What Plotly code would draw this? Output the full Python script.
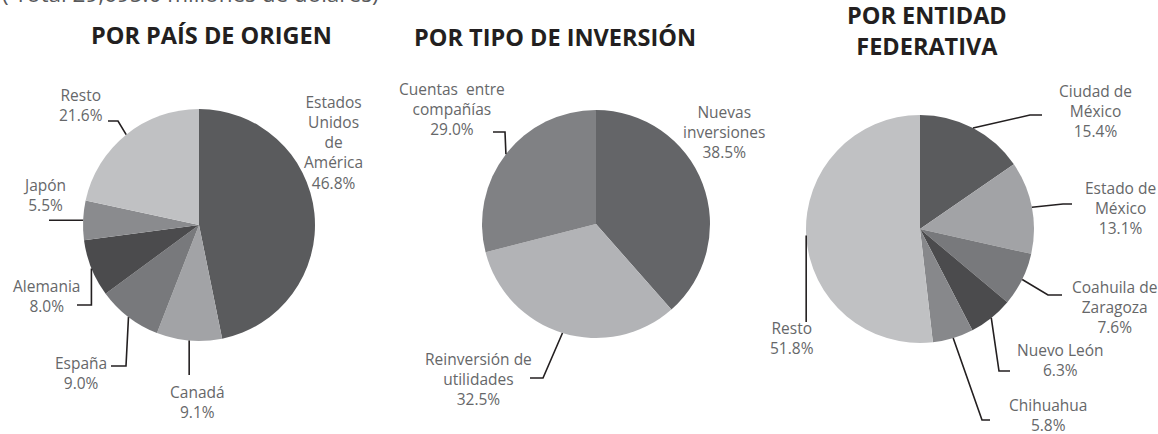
import math
import plotly.graph_objects as go

W, H = 1158, 434

# ---------------- data ----------------
origen_labels = ["Estados<br>Unidos<br>de<br>América", "Canadá", "España", "Alemania", "Japón", "Resto"]
origen_values = [46.8, 9.1, 9.0, 8.0, 5.5, 21.6]
origen_colors = ["#5a5b5d", "#a2a3a6", "#78797c", "#4b4b4d", "#8a8b8e", "#c0c1c3"]

tipo_labels = ["Nuevas<br>inversiones", "Reinversión de<br>utilidades", "Cuentas  entre<br>compañías"]
tipo_values = [38.5, 32.5, 29.0]
tipo_colors = ["#646568", "#b2b3b6", "#808184"]

entidad_labels = ["Ciudad de<br>México", "Estado de<br>México", "Coahuila de<br>Zaragoza",
                  "Nuevo León", "Chihuahua", "Resto"]
entidad_values = [15.4, 13.1, 7.6, 6.3, 5.8, 51.8]
entidad_colors = ["#5a5b5d", "#a2a3a6", "#78797c", "#4b4b4d", "#87888b", "#c0c1c3"]

titles = ["POR PAÍS DE ORIGEN", "POR TIPO DE INVERSIÓN", "POR ENTIDAD<br>FEDERATIVA"]
subtitle = "( Total 29,695.0 millones de dólares)"

# ---------------- layout geometry (pixels) ----------------
pies = [
    dict(cx=199, cy=225, r=116, labels=origen_labels, values=origen_values, colors=origen_colors,
         label_pos=[(333, 143), (197, 402), (81, 373), (46, 296), (44, 195), (81, 105)],
         leader=[None, [("s", 375)], [(126, 366), (111, 366)], [("s", 305), (77, 305)],
                 [(49, "s")], [(118, 121), (108, 121)]]),
    dict(cx=596, cy=224, r=114, labels=tipo_labels, values=tipo_values, colors=tipo_colors,
         label_pos=[(724, 132), (478, 379), (452, 109)],
         leader=[None, [(543, 378), (530, 378)], [(505, 132), (493, 132)]]),
    dict(cx=920, cy=229, r=114, labels=entidad_labels, values=entidad_values, colors=entidad_colors,
         label_pos=[(1095, 111), (1120, 208), (1114, 307), (1060, 360), (1048, 415), (792, 338)],
         leader=[[(1030, 115), (1042, 115)], [(1063, 204), (1072, 204)], [(1048, 295), (1062, 295)],
                 [(999, 371), (1010, 371)], [(982, 420), (990, 420)], [("s", 322)]]),
]
title_pos = [(211, 35), (555, 37), (927, 31)]

def px(x):
    return x / W

def py(y):
    return 1 - y / H

FONT = "Open Sans, Lato, DejaVu Sans, sans-serif"
fig = go.Figure()
annotations = []
shapes = []

for p in pies:
    cx, cy, r = p["cx"], p["cy"], p["r"]
    fig.add_trace(go.Pie(
        labels=[l.replace("<br>", " ") for l in p["labels"]],
        values=p["values"],
        marker=dict(colors=p["colors"], line=dict(width=0)),
        sort=False, direction="clockwise", rotation=0,
        textinfo="none", hoverinfo="label+value",
        domain=dict(x=[px(cx - r), px(cx + r)], y=[py(cy + r), py(cy - r)]),
    ))
    total = sum(p["values"])
    cum = 0.0
    for lab, val, lp, ld in zip(p["labels"], p["values"], p["label_pos"], p["leader"]):
        mid = (cum + val / 2) / total * 2 * math.pi
        cum += val
        sx = cx + r * math.sin(mid)
        sy = cy - r * math.cos(mid)
        annotations.append(dict(
            x=px(lp[0]), y=py(lp[1]), xref="paper", yref="paper",
            text=f"{lab}<br>{val:.1f}%", showarrow=False, align="center",
            xanchor="center", yanchor="middle",
            font=dict(family=FONT, size=15.5, color="#666769"),
        ))
        if ld:
            pts = [(sx, sy)]
            for (x, y) in ld:
                x = sx if x == "s" else x
                y = sy if y == "s" else y
                pts.append((x, y))
            path = "M " + " L ".join(f"{px(a)} {py(b)}" for a, b in pts)
            shapes.append(dict(type="path", path=path, xref="paper", yref="paper",
                               line=dict(color="#231f20", width=1.6)))

for t, (tx, ty) in zip(titles, title_pos):
    annotations.append(dict(
        x=px(tx), y=py(ty), xref="paper", yref="paper", text=t, showarrow=False,
        xanchor="center", yanchor="middle", align="center",
        font=dict(family=FONT, size=23.5, color="#231f20", weight=700),
    ))

annotations.append(dict(
    x=0, y=py(-6), xref="paper", yref="paper", text=subtitle, showarrow=False,
    xanchor="left", yanchor="middle", align="left",
    font=dict(family=FONT, size=22.5, color="#58595b"),
))

fig.update_layout(
    width=W, height=H, margin=dict(l=0, r=0, t=0, b=0),
    paper_bgcolor="white", plot_bgcolor="white", showlegend=False,
    annotations=annotations, shapes=shapes,
)
fig.write_html("out.html", config={"displayModeBar": False},
               post_script="document.body.style.margin='0';document.body.style.overflow='hidden';")
